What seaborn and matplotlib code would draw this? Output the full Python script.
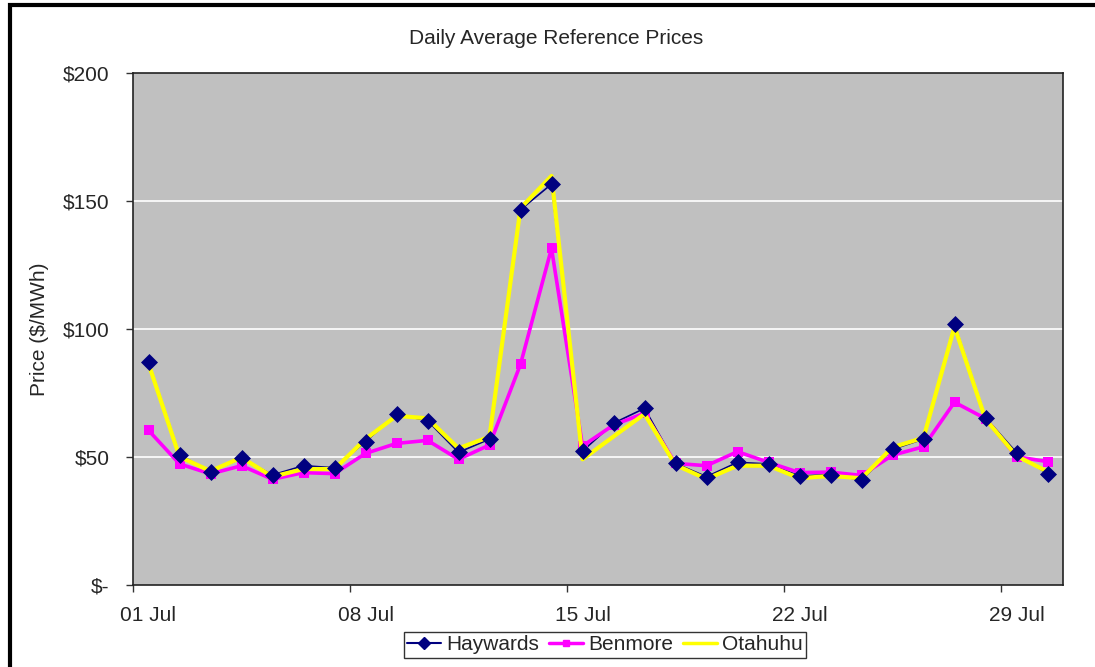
import matplotlib

matplotlib.use("Agg")
import matplotlib.pyplot as plt
import pandas as pd
import seaborn as sns
from matplotlib.lines import Line2D
from matplotlib.patches import Rectangle

# daily average reference prices, 01 Jul .. 30 Jul
days = [f"{d:02d} Jul" for d in range(1, 31)]
haywards = [87.2, 50.8, 44.3, 49.5, 43.0, 46.6, 45.8, 56.0, 66.7, 64.2,
            51.8, 57.0, 146.6, 156.6, 52.3, 63.2, 69.0, 47.5, 42.3, 47.9,
            47.3, 42.6, 43.1, 41.0, 53.0, 57.0, 101.8, 65.4, 51.7, 43.4]
benmore = [60.4, 47.3, 43.4, 46.6, 41.3, 43.9, 43.5, 51.4, 55.3, 56.5,
           49.1, 54.7, 86.2, 131.5, 54.3, 62.5, 67.1, 47.5, 46.6, 52.1,
           47.9, 43.9, 44.1, 42.8, 50.7, 54.0, 71.4, 65.0, 50.1, 48.2]
otahuhu = [86.5, 50.1, 44.5, 49.8, 42.3, 45.3, 45.3, 57.0, 66.1, 65.1,
           53.4, 57.9, 147.2, 159.8, 49.1, 58.0, 66.8, 46.9, 41.4, 46.6,
           46.6, 41.7, 42.6, 41.7, 53.8, 57.5, 100.9, 64.8, 50.4, 44.3]
label_days = ["01 Jul", "08 Jul", "15 Jul", "22 Jul", "29 Jul"]
y_ticks = [0, 50, 100, 150, 200]
y_labels = ["$-", "$50", "$100", "$150", "$200"]

df = pd.DataFrame({"pos": range(len(days)), "day": days,
                   "Haywards": haywards, "Benmore": benmore, "Otahuhu": otahuhu})

sns.set_style("white")
plt.rcParams["font.family"] = ["Liberation Sans", "DejaVu Sans"]
plt.rcParams["font.size"] = 15

fig = plt.figure(figsize=(10.95, 6.67), dpi=100)
ax = fig.add_axes([133 / 1095, 82 / 667, 930 / 1095, 512 / 667])
ax.set_facecolor("#c0c0c0")

# outer chart frame
fig.patches.append(Rectangle((10 / 1095, -0.05), 1.1, 1 - 5 / 667 + 0.05,
                             transform=fig.transFigure, fill=False,
                             edgecolor="black", linewidth=3, zorder=0))

for y in [50, 100, 150]:
    ax.axhline(y, color="white", linewidth=1.2, zorder=1)

sns.lineplot(data=df, x="pos", y="Haywards", ax=ax, color="#000080",
             linewidth=1.2, zorder=2)
sns.lineplot(data=df, x="pos", y="Benmore", ax=ax, color="#ff00ff",
             linewidth=2.6, marker="s", markersize=7, markeredgewidth=0, zorder=3)
sns.lineplot(data=df, x="pos", y="Otahuhu", ax=ax, color="#ffff00",
             linewidth=3, zorder=4)
sns.scatterplot(data=df, x="pos", y="Haywards", ax=ax, color="#000080",
                marker="D", s=75, linewidth=0, zorder=5)

ax.set_xlim(-0.5, len(days) - 0.5)
ax.set_ylim(0, 200)
ax.set_yticks(y_ticks)
ax.set_yticklabels(y_labels)
ax.set_xticks([days.index(d) for d in label_days])
ax.set_xticklabels(label_days)
ax.set_xticks([days.index(d) - 0.5 for d in label_days], minor=True)
ax.tick_params(axis="x", which="major", length=0, pad=15)
ax.tick_params(axis="x", which="minor", length=5, width=1, color="#333333",
               direction="out", bottom=True)
ax.tick_params(axis="y", length=5, width=1, color="#333333", direction="out",
               left=True, pad=12)
ax.set_xlabel("")
ax.set_ylabel("Price ($/MWh)", labelpad=10)
for side in ["left", "right", "top", "bottom"]:
    ax.spines[side].set_color("#222222")
    ax.spines[side].set_linewidth(1.2)

fig.text(556 / 1095, 1 - 38 / 667, "Daily Average Reference Prices",
         ha="center", va="center", fontsize=15)

handles = [
    Line2D([], [], color="#000080", linewidth=1.5, marker="D", markersize=6),
    Line2D([], [], color="#ff00ff", linewidth=2.5, marker="s", markersize=5),
    Line2D([], [], color="#ffff00", linewidth=2.5),
]
leg = fig.legend(handles, ["Haywards", "Benmore", "Otahuhu"], loc="center",
                 bbox_to_anchor=(605 / 1095, 1 - 645 / 667), ncol=3,
                 frameon=True, fancybox=False, handlelength=1.6,
                 handletextpad=0.25, columnspacing=0.5, borderpad=0.15,
                 borderaxespad=0, fontsize=15)
leg.get_frame().set_edgecolor("black")
leg.get_frame().set_linewidth(1)

fig.savefig("out.png", dpi=100)
